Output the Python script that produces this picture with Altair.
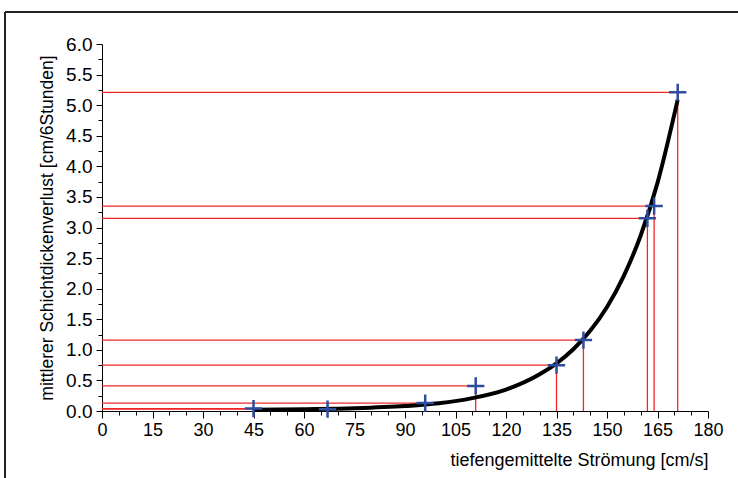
import altair as alt
import pandas as pd

# measured points
x_vals = [45, 67, 96, 111, 135, 143, 162, 164, 171]
y_vals = [0.04, 0.03, 0.13, 0.41, 0.75, 1.16, 3.15, 3.35, 5.21]

# fitted curve
curve_x = [45, 60, 75, 90, 100, 110, 120, 130, 135, 140, 145, 150, 155, 160, 165, 171]
curve_y = [0.02, 0.03, 0.045, 0.08, 0.125, 0.21, 0.35, 0.60, 0.78, 1.01, 1.31, 1.70, 2.21, 2.87, 3.73, 5.09]

# axis ticks (major + minor)
x_ticks = list(range(0, 181, 5))
y_ticks = [i * 0.25 for i in range(25)]

W, H = 606, 367

pts = pd.DataFrame({"x": x_vals, "y": y_vals, "zero": [0] * len(x_vals)})
curve = pd.DataFrame({"x": curve_x, "y": curve_y})
one = pd.DataFrame({"a": [0]})

FONT = "Liberation Sans"

xscale = alt.Scale(domain=[0, 180], nice=False, zero=False)
yscale = alt.Scale(domain=[0, 6], nice=False)

xaxis = alt.Axis(
    values=x_ticks,
    labelExpr="datum.value % 15 === 0 ? datum.label : ''",
    tickSize={"condition": {"test": "datum.value % 15 === 0", "value": 7}, "value": 4},
    tickColor="black", domainColor="black", domainWidth=1, tickWidth=1,
    grid=False, labelOverlap=False, labelFlush=False,
    labelFont=FONT, labelFontSize=18, labelColor="black", labelPadding=3,
    title="tiefengemittelte Strömung [cm/s]",
    titleFont=FONT, titleFontSize=18, titleFontWeight="normal", titleColor="black",
    titleAnchor="end", titleAlign="right", titleBaseline="middle",
    titleX=W, titleY=49,
)
yaxis = alt.Axis(
    values=y_ticks,
    format=".1f",
    labelExpr="datum.value % 0.5 === 0 ? datum.label : ''",
    tickSize={"condition": {"test": "datum.value % 0.5 === 0", "value": 6}, "value": 4},
    tickColor="black", domainColor="black", domainWidth=1, tickWidth=1,
    grid=False, labelOverlap=False, labelFlush=False,
    labelFont=FONT, labelFontSize=19, labelColor="black", labelPadding=4,
    labelBaseline="middle",
    title="mittlerer Schichtdickenverlust [cm/6Stunden]",
    titleFont=FONT, titleFontSize=17.5, titleFontWeight="normal", titleColor="black",
    titleAngle=270, titleBaseline="middle", titleAlign="center",
    titleX=-55, titleY=H / 2,
)

X = lambda f: alt.X(f, scale=xscale, axis=xaxis)
Y = lambda f: alt.Y(f, scale=yscale, axis=yaxis)

frame_v = alt.Chart(one).mark_rule(color="#222222", strokeWidth=2).encode(
    x=alt.value(-97), y=alt.value(-32), y2=alt.value(H + 120)
)
frame_h = alt.Chart(one).mark_rule(color="#222222", strokeWidth=2).encode(
    x=alt.value(-97), x2=alt.value(W + 200), y=alt.value(-32)
)

h_rules = alt.Chart(pts).mark_rule(color="#f02828", strokeWidth=1.3).encode(
    x=X("zero:Q"), x2="x:Q", y=Y("y:Q"),
)
v_rules = alt.Chart(pts).mark_rule(color="#f02828", strokeWidth=1.3).encode(
    x=X("x:Q"), y=Y("zero:Q"), y2="y:Q",
)
line = alt.Chart(curve).mark_line(color="black", strokeWidth=4, interpolate="monotone").encode(
    x=X("x:Q"), y=Y("y:Q"),
)
crosses = alt.Chart(pts).mark_point(
    shape="M-1,0L1,0M0,-1L0,1", size=300, filled=False,
    stroke="#2f4d9e", strokeWidth=2.5, opacity=1,
).encode(
    x=X("x:Q"), y=Y("y:Q"),
)

chart = alt.layer(frame_v, frame_h, h_rules, v_rules, line, crosses).properties(
    width=W, height=H,
    padding={"left": 102, "top": 44, "right": 30, "bottom": 67},
    autosize=alt.AutoSizeParams(type="none"),
    background="white",
).configure_view(stroke=None).configure_axis(labelOverlap=False)

chart.save("out.html", embed_options={"renderer": "svg", "actions": False})
